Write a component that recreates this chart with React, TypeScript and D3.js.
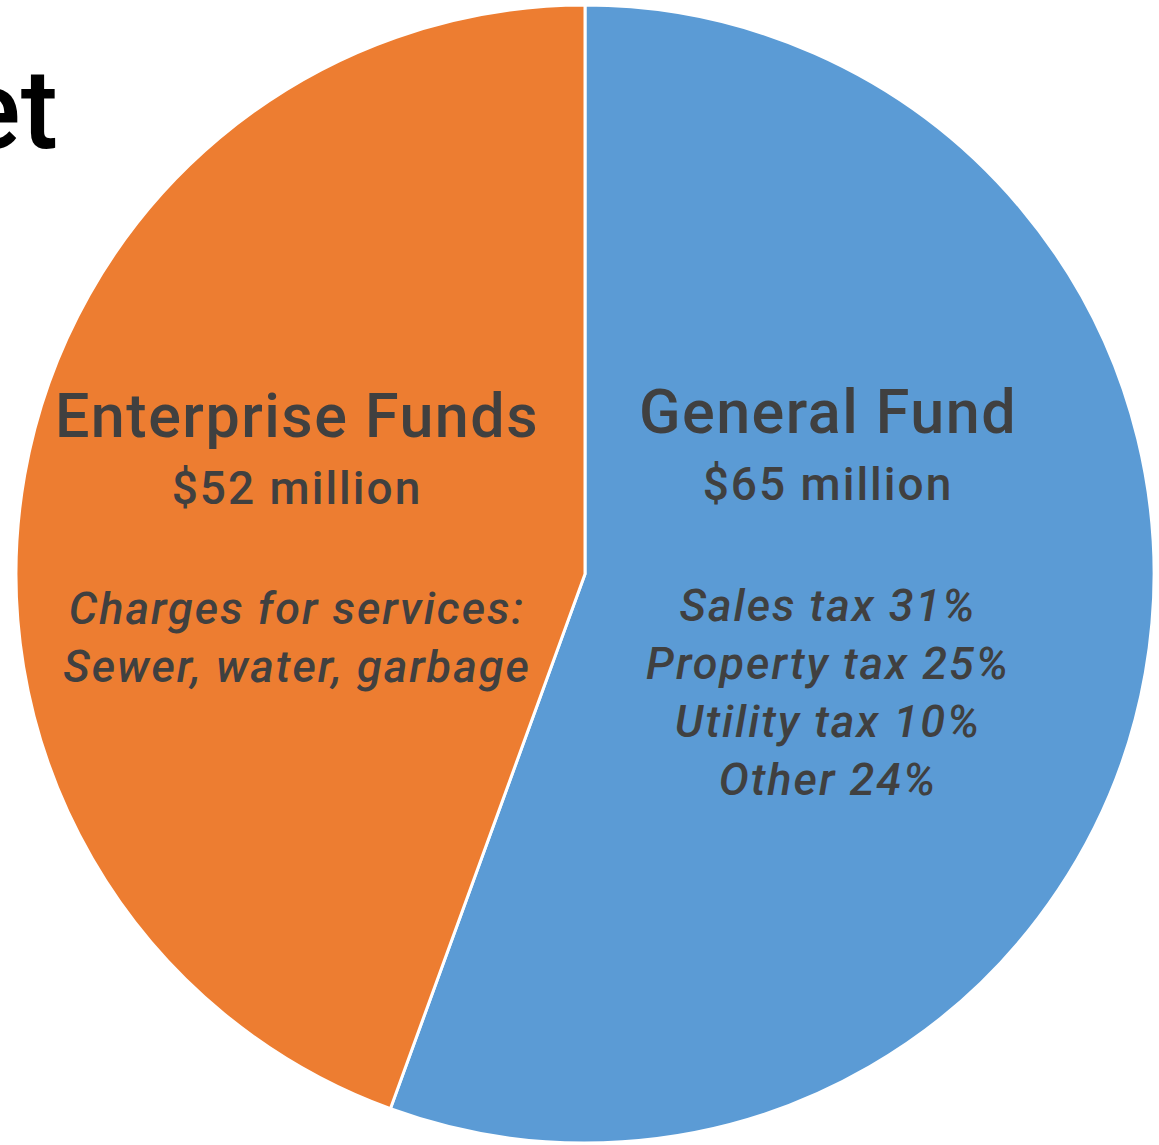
import React from "react";
import * as d3 from "d3";

const categories = ["General Fund", "Enterprise Funds"];
const values = [65, 52];
const amountLabels = ["$65 million", "$52 million"];
const detailLines = [
  ["Sales tax 31%", "Property tax 25%", "Utility tax 10%", "Other 24%"],
  ["Charges for services:", "Sewer, water, garbage"],
];
const colors = ["#5B9BD5", "#ED7D31"];
const titleText = "Budget";

const W = 1159;
const H = 1145;
const cx = 585;
const cy = 574;
const R = 569;

export default function App() {
  const pie = d3.pie<number>().sort(null).value((d) => d)(values);
  const arc = d3.arc<d3.PieArcDatum<number>>().innerRadius(0).outerRadius(R);
  const font = "Roboto, 'DejaVu Sans', sans-serif";
  const textColor = "#404040";
  const labelPos = [
    { x: 828, y: 433 },
    { x: 297, y: 437 },
  ];
  return (
    <svg
      width={W}
      height={H}
      style={{ position: "absolute", left: 0, top: 0, background: "#fff" }}
    >
      <text
        x={58}
        y={148}
        textAnchor="end"
        fontFamily={font}
        fontWeight={500}
        fontSize={112}
        fill="#000"
      >
        {titleText}
      </text>
      <g transform={`translate(${cx},${cy})`}>
        {pie.map((p, i) => (
          <path
            key={categories[i]}
            d={arc(p) || ""}
            fill={colors[i]}
            stroke="#fff"
            strokeWidth={3}
          />
        ))}
      </g>
      {categories.map((c, i) => {
        const lp = labelPos[i];
        return (
          <g key={c} fontFamily={font} fill={textColor} textAnchor="middle" fontWeight={500}>
            <text x={lp.x} y={lp.y} fontSize={61} letterSpacing={1.5}>
              {c}
            </text>
            <text x={lp.x} y={lp.y + 67} fontSize={46} letterSpacing={2}>
              {amountLabels[i]}
            </text>
            {detailLines[i].map((l, j) => (
              <text
                key={l}
                x={lp.x}
                y={(i === 0 ? 621 : 624) + j * 58}
                fontSize={45}
                fontStyle="italic"
                letterSpacing={2}
              >
                {l}
              </text>
            ))}
          </g>
        );
      })}
    </svg>
  );
}
